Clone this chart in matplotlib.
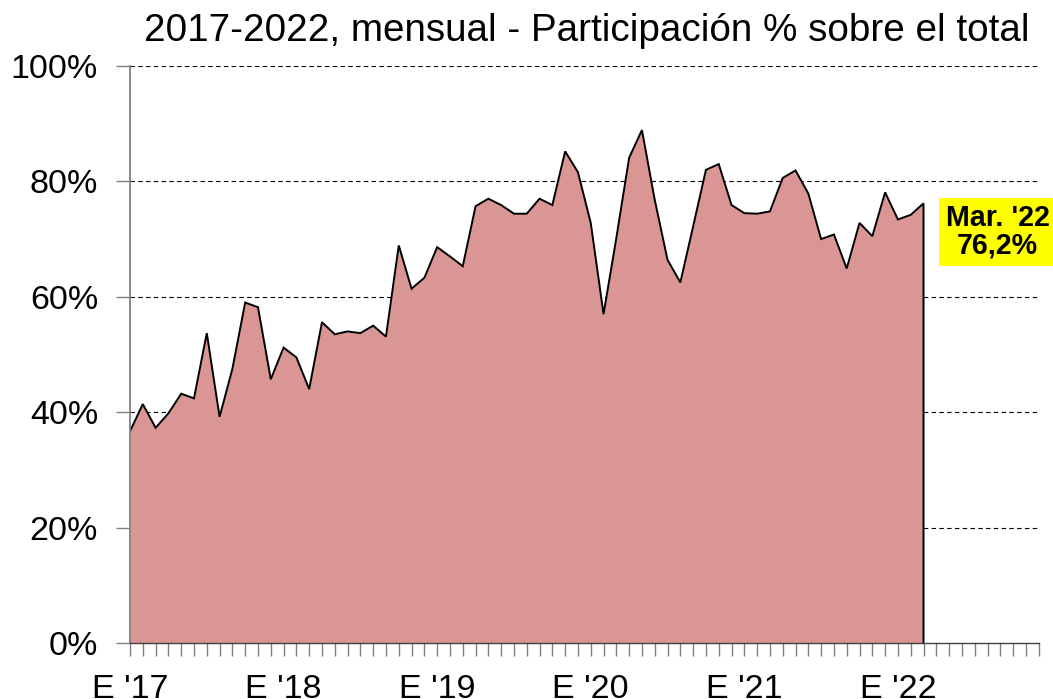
import matplotlib
matplotlib.use("Agg")
import matplotlib.pyplot as plt
import numpy as np

plt.rcParams['font.family'] = ['Liberation Sans', 'DejaVu Sans']

title = "2017-2022, mensual - Participación % sobre el total"
values = [36.7, 41.4, 37.3, 39.8, 43.2, 42.4, 53.7, 39.2, 47.5, 59.0, 58.2, 45.7,
          51.2, 49.5, 44.0, 55.6, 53.5, 54.0, 53.7, 55.0, 53.1, 68.9, 61.4, 63.3,
          68.6, 67.0, 65.3, 75.7, 77.0, 75.9, 74.4, 74.4, 77.0, 75.9, 85.2, 81.6,
          72.8, 57.0, 70.2, 84.1, 88.9, 76.8, 66.4, 62.5, 72.2, 82.0, 83.0, 75.9,
          74.5, 74.4, 74.8, 80.6, 81.9, 77.9, 70.0, 70.8, 64.9, 72.8, 70.5, 78.1,
          73.4, 74.2, 76.2]
xtick_labels = ["E '17", "E '18", "E '19", "E '20", "E '21", "E '22"]
ytick_values = [0, 20, 40, 60, 80, 100]
annot_text = "Mar. '22\n76,2%"
n_months_axis = 72

x = np.arange(len(values))

fig = plt.figure(figsize=(10.53, 6.99), dpi=100)
ax = fig.add_axes([130/1053, 1 - 643/699, (1038.7-130)/1053, (643-66)/699])

ax.fill_between(x, 0, values, color='#D99694', linewidth=0)
ax.plot(np.r_[x, x[-1]], np.r_[values, 0], color='black', linewidth=1.4,
        solid_joinstyle='miter')

ax.set_xlim(0, n_months_axis - 1)
ax.set_ylim(0, 100)

for v in ytick_values[1:]:
    ax.axhline(v, color='black', linestyle=(0, (4, 3)), linewidth=0.8, zorder=0)

ax.set_yticks(ytick_values)
ax.set_yticklabels([f"{v}%" for v in ytick_values])
ax.set_xticks(np.arange(0, 61, 12))
ax.set_xticklabels(xtick_labels)
ax.set_xticks(np.arange(0, n_months_axis), minor=True)

ax.tick_params(axis='y', which='major', direction='out', length=10, width=1,
               color='#808080', labelsize=24.5, pad=13)
ax.tick_params(axis='x', which='both', direction='out', length=9, width=1,
               color='#808080', labelsize=24.5, pad=13)

for s in ['top', 'right']:
    ax.spines[s].set_visible(False)
ax.spines['left'].set_color('#808080')
ax.spines['left'].set_linewidth(1.3)
ax.spines['bottom'].set_color('#404040')
ax.spines['bottom'].set_linewidth(1.0)

fig.text(587/1053, 1 - 31/699, title, ha='center', va='center', fontsize=27.8)

ax.annotate(annot_text, xy=(997.5/1053, 1 - 232/699), xycoords='figure fraction',
            ha='center', va='center', fontsize=20.6, fontweight='bold',
            linespacing=1.0,
            bbox=dict(boxstyle='square,pad=0.22', facecolor='#FFFF00', edgecolor='none'))

fig.savefig("out.png", dpi=100)
